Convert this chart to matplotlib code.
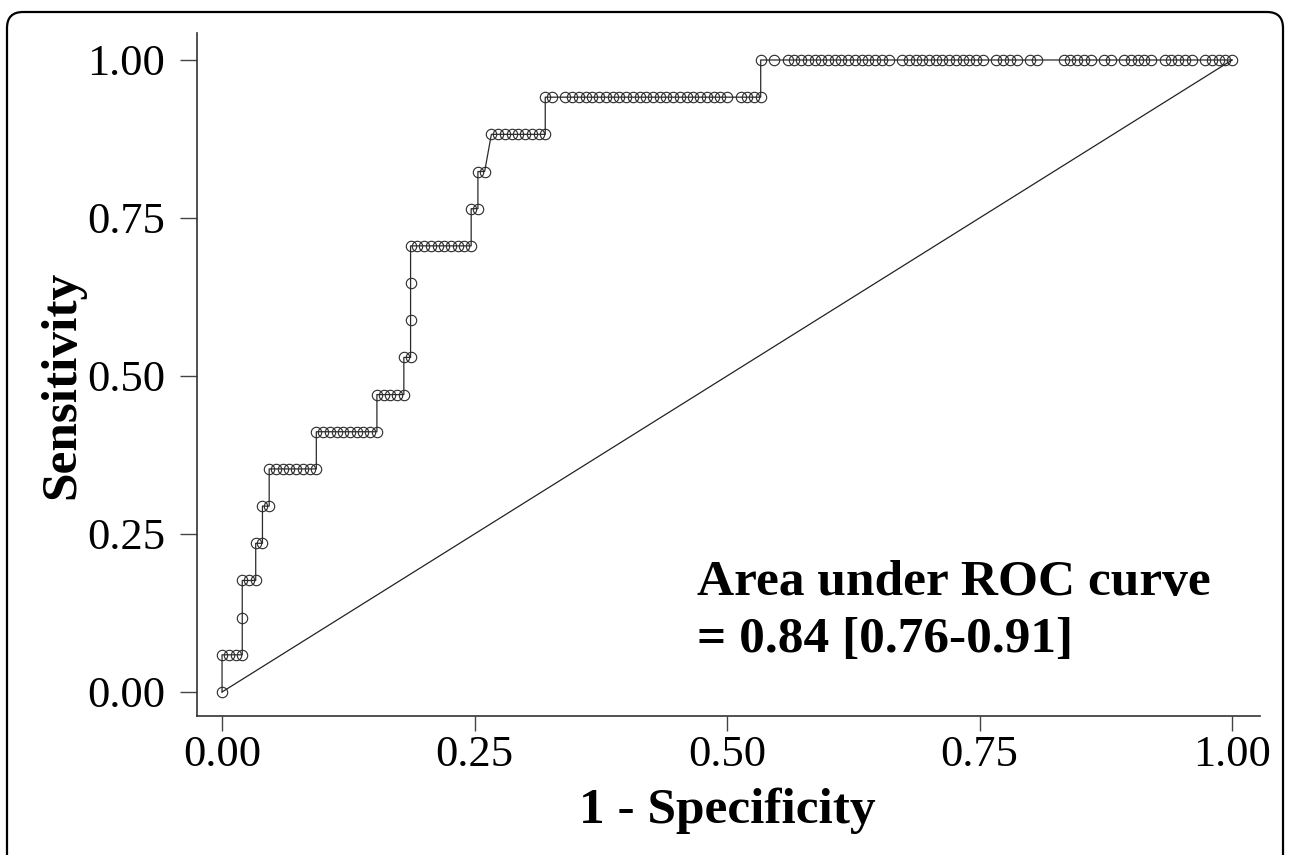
"""
ROC curve with area under the curve annotation
"""
import matplotlib.pyplot as plt
from matplotlib.patches import FancyBboxPatch
from matplotlib.transforms import IdentityTransform

# number of negative / positive cases
n_neg = 150
n_pos = 17

# true positive count of each horizontal run of the curve
tp_levels = [0, 1, 2, 3, 4, 5, 6, 7, 8, 9, 10, 11, 12, 13, 14, 15, 16, 17]

# false positive counts of the points on each run
fp_by_level = [
    [0],
    [0, 1, 2, 3],
    [3],
    [3, 4, 5],
    [5, 6],
    [6, 7],
    [7, 8, 9, 10, 11, 12, 13, 14],
    [14, 15, 16, 17, 18, 19, 20, 21, 22, 23],
    [23, 24, 25, 26, 27],
    [27, 28],
    [28],
    [28],
    [28, 29, 30, 31, 32, 33, 34, 35, 36, 37],
    [37, 38],
    [38, 39],
    [40, 41, 42, 43, 44, 45, 46, 47, 48],
    [48, 49, 51, 52, 53, 54, 55, 56, 57, 58, 59, 60, 61, 62, 63, 64, 65,
     66, 67, 68, 69, 70, 71, 72, 73, 74, 75, 77, 78, 79, 80],
    [80, 82, 84, 85, 86, 87, 88, 89, 90, 91, 92, 93, 94, 95, 96, 97, 98,
     99, 101, 102, 103, 104, 105, 106, 107, 108, 109, 110, 111, 112, 113,
     115, 116, 117, 118, 120, 121, 125, 126, 127, 128, 129, 131, 132,
     134, 135, 136, 137, 138, 140, 141, 142, 143, 144, 146, 147, 148,
     149, 150],
]

tick_values = [0, 0.25, 0.5, 0.75, 1]
tick_labels = ["0.00", "0.25", "0.50", "0.75", "1.00"]
auc_text = "Area under ROC curve\n= 0.84 [0.76-0.91]"

serif = "Liberation Serif"

fpr = []
tpr = []
for level, fps in zip(tp_levels, fp_by_level):
    for fp in fps:
        fpr.append(fp / n_neg)
        tpr.append(level / n_pos)

fig = plt.figure(figsize=(12.9, 8.55), dpi=100)
ax = fig.add_axes([197 / 1290, 139 / 855, 1063 / 1290, 683 / 855])

# reference line
ax.plot([0, 1], [0, 1], color="#222222", lw=0.9)
# roc curve with open circles
ax.plot(fpr, tpr, color="#2a2a2a", lw=0.9, marker="o", ms=7.5,
        mfc="none", mec="#2a2a2a", mew=0.8)

ax.set_xlim(-0.0248, 1.0277)
ax.set_ylim(-0.038, 1.0427)
ax.set_xticks(tick_values)
ax.set_xticklabels(tick_labels, family=serif, fontsize=32)
ax.set_yticks(tick_values)
ax.set_yticklabels(tick_labels, family=serif, fontsize=32)
ax.tick_params(axis="y", length=12, width=1, color="#444444", pad=11)
ax.tick_params(axis="x", length=11, width=1, color="#444444", pad=3)

for side in ["top", "right"]:
    ax.spines[side].set_visible(False)
for side in ["left", "bottom"]:
    ax.spines[side].set_color("#333333")
    ax.spines[side].set_linewidth(1.2)

fig.text(727 / 1290, 1 - 823 / 855, "1 - Specificity", family=serif,
         fontweight="bold", fontsize=37, ha="center", va="baseline")
fig.text(62 / 1290, 1 - 385 / 855, "Sensitivity", family=serif,
         fontweight="bold", fontsize=37, rotation=90, ha="center", va="center")
# multi-line text: baseline refers to the last line
fig.text(697 / 1290, 1 - 652 / 855, auc_text, family=serif,
         fontweight="bold", fontsize=37, ha="left", va="baseline",
         linespacing=1.32)

# rounded frame around the whole picture
frame = FancyBboxPatch((7, -30), 1276, 843 + 30, boxstyle="round,pad=0,rounding_size=16",
                       transform=IdentityTransform(), fill=False,
                       edgecolor="black", lw=1.6)
fig.add_artist(frame)

plt.savefig("out.png", dpi=100)
